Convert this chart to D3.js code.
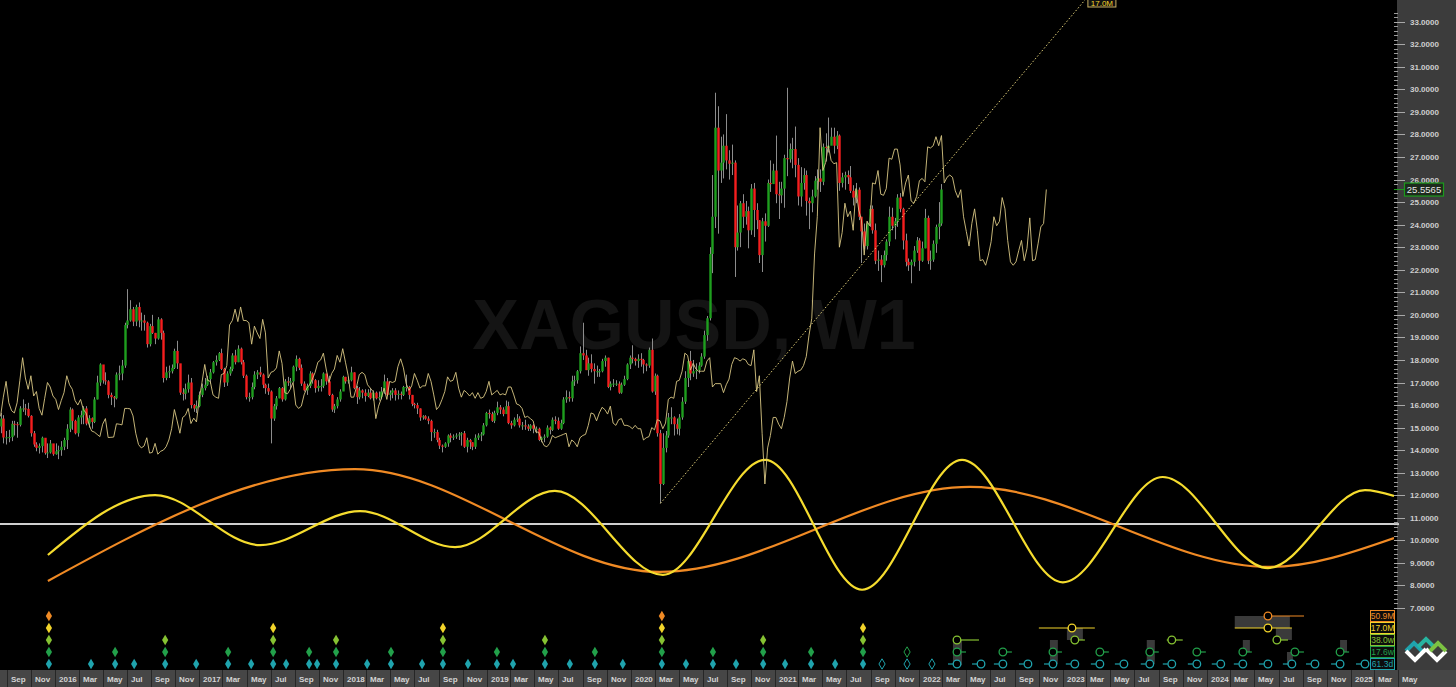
<!DOCTYPE html>
<html><head><meta charset="utf-8">
<script src="https://cdn.jsdelivr.net/npm/d3@7"></script>
<style>html,body{margin:0;padding:0;background:#000;overflow:hidden}svg{display:block}</style>
</head><body>
<svg id="chart" width="1456" height="687"></svg>
<script>
// ---------------- DATA ----------------
const symbolTitle = "XAGUSD, W1";
const firstWeek = "2015-08-16";
const firstOpen = 15.05;
const lastPrice = 25.5565;
// weekly closes, highs, lows (Aug 2015 .. Feb 2022)
const closes = [
15.40,14.56,14.57, 14.58,15.17,15.15,15.12, 15.85,15.85,15.83,15.52, 14.75,14.25,14.10,14.18,14.55, 13.87,13.90,14.30,13.82,
13.95,14.00,14.15,14.45,14.95, 15.80,15.30,14.75,15.45, 15.55,15.85,15.18,15.42, 15.25,16.25,17.00,17.80, 17.10,17.05,16.45,16.35,16.30, 17.35,17.40,17.75,19.55, 19.75,20.25,19.70,20.35,19.75, 19.75,19.65,18.70,19.50, 19.20,18.95,19.80,19.20, 17.20,17.45,17.50,17.65,18.40, 17.85,16.55,16.50,16.70, 17.00,16.00,15.85,15.95,
16.45,16.75,16.90,17.15,17.45, 17.90,18.00,18.30,17.60, 17.00,17.40,17.60,18.20, 17.90,18.50,17.90,17.30,16.35, 16.35,16.80,17.35,17.45, 17.35,16.90,16.75,16.60, 15.40,15.95,16.30,16.75,16.25, 17.05,17.00,17.05,17.70, 18.05,17.65,16.95,16.65, 16.85,17.40,17.10,16.75,16.85, 16.85,17.40,17.05,16.45, 15.80,15.95,16.25,16.60,17.25,
17.05,17.10,17.45,16.75, 16.35,16.65,16.55,16.40, 16.55,16.30,16.55,16.30, 16.35,16.60,17.05,16.45,16.55, 16.65,16.45,16.50,16.45, 16.80,16.80,16.45,16.05, 16.00,15.85,15.45,15.50,15.40, 15.30,14.80,14.80,14.45, 14.20,14.15,14.30,14.65,14.55, 14.60,14.65,14.70,14.75, 14.15,14.45,14.35,14.15, 14.55,14.65,14.70,15.10,15.65,
15.60,15.30,15.65,15.90, 15.80,15.60,15.95,15.20, 15.10,15.35,15.40,15.10,15.10, 15.05,14.95,15.10,14.95, 14.95,14.45,14.55,14.60, 15.00,14.90,15.35,15.30,14.95, 15.20,16.25,16.35,16.30, 17.05,17.10,17.50,18.30, 18.20,17.55,17.85,17.60,17.50, 17.50,17.50,17.95,18.10, 16.80,16.95,16.95,16.95, 16.55,16.90,17.15,17.80,18.10,
18.05,17.95,18.05,18.00, 17.80,17.75,18.45,16.60, 17.30,14.75,12.50,14.10,14.65, 15.45,15.45,15.15,14.95, 15.45,16.15,17.20,17.95,17.40, 17.50,17.55,17.75,18.15, 19.10,19.85,22.70,24.35, 28.30,26.40,26.75,27.50,26.85, 26.70,26.75,23.00,23.65, 24.95,24.35,24.60,23.75, 25.60,24.65,24.20,22.65,24.15, 23.95,25.85,25.80,26.40,
25.35,25.30,25.60,26.95,26.90, 27.35,27.35,26.65,25.25, 25.85,26.20,25.05,24.95, 25.25,25.95,26.05,25.90, 27.45,27.40,27.50,27.90,27.50, 27.95,25.85,26.10,26.20, 26.10,25.50,25.20,25.55, 24.35,23.70,23.05,24.05,24.70, 23.75,22.40,22.45,22.20, 22.65,23.25,24.35,23.95,24.15, 25.20,24.70,23.30,22.35, 22.20,22.35,22.85,23.30,
22.40,22.95,24.30,22.40,22.45, 23.15,23.90,24.05,25.56];
const highs = [
15.65,15.55,14.85, 14.90,15.30,15.30,15.25, 15.95,16.25,16.05,16.10, 15.55,14.85,14.35,14.30,14.60, 14.50,14.30,14.45,14.20,
14.30,14.20,14.40,14.55,15.15, 15.90,15.85,15.35,15.55, 15.75,15.95,15.95,15.55, 15.45,16.35,17.30,17.85, 17.75,17.45,17.10,16.55,16.40, 17.45,17.75,18.00,19.65, 21.14,20.65,20.35,20.45,20.55, 20.10,20.00,19.70,19.60, 20.00,19.20,19.90,19.85, 19.30,17.70,17.75,17.80,18.50, 18.85,17.70,16.75,16.95, 17.35,17.20,16.05,16.20,
16.60,16.95,17.20,17.30,17.60, 17.95,18.20,18.35,18.50, 17.65,17.50,17.70,18.30, 18.45,18.65,18.55,18.00,17.35, 16.55,17.00,17.50,17.55, 17.70,17.40,16.95,16.95, 16.65,16.05,16.40,16.80,16.80, 17.15,17.25,17.20,17.75, 18.20,18.10,17.80,17.05, 16.95,17.50,17.45,17.15,17.10, 17.15,17.45,17.25,17.30, 16.50,16.05,16.35,16.70,17.30,
17.25,17.25,17.70,17.45, 16.85,16.80,16.70,16.70, 16.70,16.75,16.65,16.60, 16.60,16.80,17.35,17.20,16.65, 16.75,16.75,16.65,16.60, 16.85,17.35,16.85,16.45, 16.10,16.10,15.85,15.55,15.55, 15.50,15.35,14.95,14.90, 14.55,14.25,14.35,14.70,14.75, 14.70,14.75,14.80,14.80, 14.85,14.55,14.50,14.35, 14.70,14.75,14.80,15.20,15.70,
15.80,15.70,15.75,16.15, 16.00,15.90,16.20,16.15, 15.30,15.45,15.60,15.50,15.25, 15.35,15.15,15.15,15.15, 15.05,15.00,14.60,14.70, 15.10,15.05,15.45,15.50,15.45, 15.35,16.35,16.65,16.60, 17.30,17.30,17.55,18.60, 19.65,18.45,18.10,18.25,17.85, 17.75,17.60,18.05,18.20, 18.10,17.05,17.15,17.10, 17.05,17.00,17.30,17.85,18.20,
18.65,18.10,18.25,18.30, 18.05,17.85,18.55,18.95, 17.40,17.35,14.90,14.75,14.85, 15.65,15.90,15.50,15.40, 15.60,16.35,17.50,18.00,18.40, 18.00,17.85,17.90,18.30, 19.30,19.95,23.00,26.20, 29.85,29.25,27.90,28.00,28.90, 27.30,27.55,26.85,24.85, 25.05,25.35,25.05,24.80, 25.80,25.85,24.95,24.20,24.30, 24.50,26.00,26.85,26.70,
27.95,25.90,25.90,27.10,30.07, 27.60,27.85,28.35,26.95, 26.55,26.50,26.40,25.20, 25.55,26.15,26.45,26.45, 27.60,28.05,28.75,28.30,28.30, 28.15,28.00,26.30,26.35, 26.40,26.60,25.75,25.85, 25.65,24.35,24.05,24.15,24.85, 24.85,24.05,22.85,22.65, 22.85,23.35,24.80,24.75,24.30, 25.35,25.40,24.75,23.60, 22.50,22.45,23.05,23.45,
23.40,23.25,24.70,24.40,22.85, 23.30,24.00,25.00,25.80];
const lows = [
14.75,14.30,14.25, 14.35,14.40,14.65,14.55, 15.05,15.70,15.55,15.45, 14.60,14.15,13.95,13.85,13.90, 13.80,13.65,13.85,13.75,
13.80,13.60,13.75,14.00,14.05, 14.80,14.90,14.70,14.60, 15.15,15.15,15.10,15.00, 14.95,15.20,16.25,16.85, 16.95,16.90,16.30,16.00,15.90, 16.25,17.10,17.10,17.65, 19.40,19.70,19.50,19.50,19.45, 19.30,19.30,18.55,18.60, 19.15,18.70,18.90,18.90, 17.00,17.10,17.20,17.40,17.60, 17.60,16.45,16.20,16.25, 16.55,15.85,15.70,15.65,
15.90,16.35,16.65,16.85,16.95, 17.40,17.75,17.95,17.55, 16.80,16.85,17.30,17.50, 17.80,17.90,17.80,17.20,16.25, 16.15,16.25,16.70,17.15, 17.25,16.75,16.50,16.45, 14.30,15.30,15.80,16.30,16.15, 16.20,16.85,16.75,17.00, 17.50,17.55,16.85,16.60, 16.45,16.75,16.95,16.55,16.60, 16.60,16.75,16.90,16.40, 15.70,15.65,15.85,16.15,16.80,
16.95,16.95,17.05,16.70, 16.05,16.25,16.30,16.15, 16.35,16.25,16.20,16.25, 16.20,16.25,16.50,16.40,16.20, 16.30,16.20,16.25,16.25, 16.40,16.60,16.25,15.95, 15.85,15.60,15.30,15.35,15.35, 15.15,14.40,14.55,14.35, 14.05,13.90,14.10,14.15,14.35, 14.45,14.50,14.45,14.20, 14.10,13.90,14.05,14.00, 14.05,14.45,14.40,14.65,15.05,
15.40,15.25,15.20,15.55, 15.60,15.50,15.70,15.15, 14.95,15.05,15.25,15.00,14.90, 14.90,14.85,14.85,14.75, 14.75,14.40,14.35,14.35, 14.55,14.70,14.85,15.15,14.90, 14.90,15.15,16.10,16.15, 16.15,16.85,16.95,17.40, 18.00,17.55,17.30,17.45,16.95, 17.25,17.25,17.45,17.70, 16.75,16.65,16.80,16.85, 16.50,16.50,16.85,17.10,17.60,
17.85,17.75,17.65,17.70, 17.40,17.50,17.65,16.55, 16.45,14.60,11.64,12.45,13.90, 14.55,15.15,14.65,14.70, 14.65,15.35,16.05,16.80,17.10, 17.25,17.15,17.40,17.70, 18.05,18.85,19.75,21.85, 23.85,23.60,25.85,26.05,26.45, 26.00,26.20,21.68,22.85, 23.00,23.85,24.00,22.95, 23.55,23.45,23.80,22.30,21.90, 23.25,23.90,25.45,25.80,
24.95,24.25,24.95,24.75,26.15, 26.75,26.50,26.10,24.85, 24.80,25.55,24.40,23.80, 24.55,25.20,25.55,25.45, 25.75,26.80,27.20,27.55,27.15, 27.35,25.50,25.65,25.55, 25.80,25.40,24.85,24.95, 24.20,22.30,22.90,22.90,23.90, 23.60,22.25,21.95,21.45, 22.10,22.40,23.05,23.75,23.35, 23.90,24.55,22.90,22.15, 21.95,21.40,22.15,22.75,
21.95,22.35,22.95,22.25,22.00, 22.35,22.75,23.35,23.95];

// displaced price line (closes before the first candle, Nov 2014 .. Aug 2015), shifted forward
const fldPreStart = "2014-11-23";
const fldPreCloses = [15.50,16.35,17.05,16.10,15.75,15.65, 16.10,17.10,18.10,17.20, 16.70,17.30,16.40,16.60, 15.85,15.55,16.30,17.00,16.80, 16.40,16.25,15.80,16.20, 16.55,17.30,16.90,16.70,16.20, 16.00,16.25,15.80,15.65, 15.15,14.85,14.80,14.70, 14.60,15.15];
const fldShiftWeeks = 38;

// cycle waves (turning points; decimal years, price-scale values)
const wave17MYears  = [2015.951,2016.694,2017.424,2018.118,2018.778,2019.472,2020.222,2020.931,2021.604,2022.299,2023.000,2023.694,2024.424,2025.097,2025.299];
const wave17MValues = [9.35,12.01,9.79,11.30,9.70,12.19,8.47,13.57,7.81,13.57,8.14,12.81,8.77,12.23,11.97];
const wave51MYears  = [2015.951,2018.083,2020.201,2022.354,2024.438,2025.299];
const wave51MValues = [8.20,13.16,8.60,12.37,8.82,10.10];
const baseLineValue = 10.72;

// valid trend line (17.0M)
const vtlYears = [2020.205, 2023.153];
const vtlValues = [11.64, 33.96];
const vtlLabel = "17.0M";

// cycle legend: level 0..4
const cycleLabels = ["61.3d","17.6w","38.0w","17.0M","50.9M"];
const cycleColors = ["#1fa3ad","#22a04a","#86c232","#f2d42a","#f08a24"];

// past troughs: date (decimal year) and highest cycle level reached
const troughYears  = [2015.958,2016.250,2016.417,2016.549,2016.764,2016.979,2017.201,2017.361,2017.514,2017.604,2017.764,2017.819,2017.951,2018.167,2018.333,2018.549,2018.694,2018.868,2019.069,2019.181,2019.403,2019.576,2019.750,2019.944,2020.215,2020.382,2020.569,2020.729,2020.917,2021.069,2021.250,2021.417,2021.611];
const troughLevels = [4,0,1,0,2,0,1,0,3,0,1,0,2,0,1,0,3,0,1,0,2,0,1,0,4,0,1,0,2,0,1,0,3];
// unconfirmed troughs (hollow)
const hollowYears  = [2021.743,2021.917,2021.917,2022.090];
const hollowLevels = [0,0,1,0];
// projected troughs (circles)
const projYears  = [2022.264,2022.431,2022.583,2022.757,2022.931,2023.083,2023.257,2023.424,2023.604,2023.757,2023.931,2024.097,2024.250,2024.424,2024.590,2024.750,2024.924,2025.097,
                    2022.264,2022.583,2022.931,2023.257,2023.604,2023.931,2024.250,2024.611,2024.924,
                    2022.264,2023.083,2023.757,2024.486,
                    2023.063,2024.424,
                    2024.424];
const projLevels = [0,0,0,0,0,0,0,0,0,0,0,0,0,0,0,0,0,0, 1,1,1,1,1,1,1,1,1, 2,2,2,2, 3,3, 4];
// projection ranges: [fromYear, toYear, level]
const projRanges = [[2022.264,2022.417,2],[2023.083,2023.153,2],[2023.722,2023.833,2],[2024.458,2024.563,2],
                    [2022.833,2023.222,3],[2024.194,2024.590,3],[2024.424,2024.674,4]];
// shaded zones: [fromYear, toYear, levelTop, levelBottom]
const projZones = [[2022.236,2022.299,2,-0.1],[2022.910,2022.965,2,0],[2023.028,2023.139,3,2],[2023.583,2023.639,2,0],
                   [2024.250,2024.299,2,1],[2024.194,2024.576,4,3],[2024.479,2024.590,3,2],[2024.556,2024.597,1,-0.1],[2024.924,2024.972,2,1]];

const priceTicks = d3.range(7, 34);
const monthNames = ["Jan","Feb","Mar","Apr","May","Jun","Jul","Aug","Sep","Oct","Nov","Dec"];

// ---------------- LAYOUT ----------------
const W = 1456, H = 687, plotRight = 1394, axisTop = 670;
const svg = d3.select("#chart");
const dy = v => { const yr = Math.floor(v); const a = Date.UTC(yr,0,1), b = Date.UTC(yr+1,0,1); return new Date(a + (v-yr)*(b-a)); };
const x = d3.scaleUtc().domain([dy(2015.6181), dy(2025.2986)]).range([0, plotRight]);
const y = d3.scaleLinear().domain([7, 33]).range([608.0, 21.7]);
const levelY = l => 664 - 12*l;
const font = "'Liberation Sans', Arial, sans-serif";

svg.append("rect").attr("width", W).attr("height", H).attr("fill", "#000");

const plot = svg.append("g");
plot.append("clipPath").attr("id","clipPlot").append("rect").attr("x",0).attr("y",0).attr("width",plotRight).attr("height",axisTop);

// watermark
plot.append("text").attr("x", 694).attr("y", 349).attr("text-anchor","middle")
  .attr("font-family", font).attr("font-weight","bold").attr("font-size", 70)
  .attr("fill", "#141414").text(symbolTitle);

const g = plot.append("g").attr("clip-path","url(#clipPlot)");

// base line
g.append("line").attr("x1",0).attr("x2",plotRight).attr("y1",y(baseLineValue)).attr("y2",y(baseLineValue))
  .attr("stroke","#cfcfcf").attr("stroke-width",2);

// waves
const waveLine = d3.line().x(d => x(dy(d[0]))).y(d => y(d[1])).curve(d3.curveMonotoneX);
g.append("path").attr("d", waveLine(wave51MYears.map((t,i)=>[t, wave51MValues[i]])))
  .attr("fill","none").attr("stroke","#f08a24").attr("stroke-width",2.2);
g.append("path").attr("d", waveLine(wave17MYears.map((t,i)=>[t, wave17MValues[i]])))
  .attr("fill","none").attr("stroke","#f5dc2e").attr("stroke-width",2.2);

// candles
const start = new Date(firstWeek + "T00:00:00Z");
const n = Math.min(closes.length, highs.length, lows.length);
const candles = d3.range(n).map(i => ({
  d: d3.utcDay.offset(start, i*7),
  o: i ? closes[i-1] : firstOpen, c: closes[i], h: highs[i], l: lows[i]
}));
const cg = g.append("g");
cg.selectAll("line").data(candles).join("line")
  .attr("x1", d => Math.round(x(d.d)) + 0.5).attr("x2", d => Math.round(x(d.d)) + 0.5)
  .attr("y1", d => y(d.h)).attr("y2", d => y(d.l))
  .attr("stroke", "#8c8c8c").attr("stroke-width", 1);
cg.selectAll("rect").data(candles).join("rect")
  .attr("x", d => Math.round(x(d.d)) - 0.7).attr("width", 2.4)
  .attr("y", d => y(Math.max(d.o, d.c))).attr("height", d => Math.max(1, Math.abs(y(d.o) - y(d.c))))
  .attr("fill", d => d.c >= d.o ? "#1e9e1e" : "#f51e1e");

// displaced price line
const fldStart = new Date(fldPreStart + "T00:00:00Z");
const fldVals = fldPreCloses.concat(closes.slice(0, n));
const fldLine = d3.line().x((v,i) => x(d3.utcDay.offset(fldStart, (i + fldShiftWeeks)*7))).y(v => y(v));
g.append("path").attr("d", fldLine(fldVals)).attr("fill","none")
  .attr("stroke","#d8c784").attr("stroke-width",1).attr("opacity",0.9);

// VTL
svg.append("line")
  .attr("x1", x(dy(vtlYears[0]))).attr("y1", y(vtlValues[0]))
  .attr("x2", x(dy(vtlYears[1]))).attr("y2", y(vtlValues[1]))
  .attr("stroke","#e6d47c").attr("stroke-width",1).attr("stroke-dasharray","1.5,2");
const vx = x(dy(vtlYears[1])) + 3;
svg.append("rect").attr("x", vx).attr("y", -3).attr("width", 28).attr("height", 10)
  .attr("fill","#111").attr("stroke","#c9b062").attr("stroke-width",1);
svg.append("text").attr("x", vx + 14).attr("y", 5.5).attr("text-anchor","middle")
  .attr("font-family", font).attr("font-size", 8).attr("fill","#f2d42a").text(vtlLabel);

// trough markers
const diamond = (cx, cy) => `M${cx},${cy-5.2}L${cx+3.1},${cy}L${cx},${cy+5.2}L${cx-3.1},${cy}Z`;
const mk = svg.append("g");
troughYears.forEach((t,i) => {
  const cx = x(dy(t));
  for (let l = 0; l <= troughLevels[i]; l++) {
    mk.append("path").attr("d", diamond(cx, levelY(l))).attr("fill", cycleColors[l]);
  }
});
hollowYears.forEach((t,i) => {
  const cx = x(dy(t));
  mk.append("path").attr("d", diamond(cx, levelY(hollowLevels[i]))).attr("fill","none")
    .attr("stroke", cycleColors[hollowLevels[i]]).attr("stroke-width",1);
});
// shaded projection zones
projZones.forEach(z => {
  mk.append("rect").attr("x", x(dy(z[0]))).attr("width", x(dy(z[1])) - x(dy(z[0])))
    .attr("y", levelY(z[2])).attr("height", levelY(z[3]) - levelY(z[2])).attr("fill","#3a3a3a");
});
projRanges.forEach(r => {
  mk.append("line").attr("x1", x(dy(r[0]))).attr("x2", x(dy(r[1])))
    .attr("y1", levelY(r[2])).attr("y2", levelY(r[2]))
    .attr("stroke", cycleColors[r[2]]).attr("stroke-width",1.2);
});
projYears.forEach((t,i) => {
  const cx = x(dy(t)), l = projLevels[i], cy = levelY(l);
  if (l === 0) mk.append("line").attr("x1", cx-9).attr("x2", cx-4).attr("y1", cy).attr("y2", cy).attr("stroke", cycleColors[0]).attr("stroke-width",1.2);
  if (l === 1) mk.append("line").attr("x1", cx+4).attr("x2", cx+9).attr("y1", cy).attr("y2", cy).attr("stroke", cycleColors[1]).attr("stroke-width",1.2);
  mk.append("circle").attr("cx", cx).attr("cy", cy).attr("r", 3.8).attr("fill","#000")
    .attr("stroke", cycleColors[l]).attr("stroke-width",1.3);
});

// legend boxes
const lg = svg.append("g");
cycleLabels.forEach((lab, l) => {
  const cy = levelY(l);
  lg.append("rect").attr("x", 1370.5).attr("y", cy - 5.5).attr("width", 24).attr("height", 11)
    .attr("fill","#0d0d0d").attr("stroke", cycleColors[l]).attr("stroke-width",1);
  lg.append("text").attr("x", 1382.5).attr("y", cy + 3).attr("text-anchor","middle")
    .attr("font-family", font).attr("font-size", 8.5).attr("fill", cycleColors[l]).text(lab);
});

// ---------------- RIGHT PRICE AXIS ----------------
const ra = svg.append("g");
ra.append("rect").attr("x", 1397).attr("y", 0).attr("width", W-1397).attr("height", axisTop).attr("fill","#3c3c3c");
ra.selectAll("line.minor").data(d3.range(7, 33.6, 0.2)).join("line").attr("class","minor")
  .attr("x1", 1394).attr("x2", 1398).attr("y1", d => Math.round(y(d))+0.5).attr("y2", d => Math.round(y(d))+0.5)
  .attr("stroke","#9a9a9a").attr("stroke-width",1);
ra.selectAll("line.major").data(priceTicks).join("line").attr("class","major")
  .attr("x1", 1394).attr("x2", 1405).attr("y1", d => Math.round(y(d))+0.5).attr("y2", d => Math.round(y(d))+0.5)
  .attr("stroke","#a8a8a8").attr("stroke-width",1);
ra.selectAll("text").data(priceTicks).join("text")
  .attr("x", 1410).attr("y", d => y(d) + 3).attr("font-family", font).attr("font-weight","bold")
  .attr("font-size", 8).attr("fill","#cfcfcf").text(d => d3.format(".4f")(d));
ra.append("line").attr("x1",1394).attr("x2",1399).attr("y1",y(baseLineValue)).attr("y2",y(baseLineValue)).attr("stroke","#cfcfcf").attr("stroke-width",2);
// current price tag
const py = y(lastPrice);
ra.append("line").attr("x1", 1394).attr("x2", 1404).attr("y1", py).attr("y2", py).attr("stroke","#1c9a1c").attr("stroke-width",1);
ra.append("rect").attr("x", 1404.5).attr("y", py - 6.5).attr("width", 39).attr("height", 13)
  .attr("fill","#1d2a1d").attr("stroke","#1c9a1c").attr("stroke-width",1.2);
ra.append("text").attr("x", 1424).attr("y", py + 3.5).attr("text-anchor","middle")
  .attr("font-family", font).attr("font-size", 9.5).attr("fill","#e8e8e8").text(d3.format(".4f")(lastPrice));

// logo
const logo = svg.append("g").attr("fill","none").attr("stroke-width",4).attr("stroke-linejoin","miter");
logo.append("path").attr("d","M1406,651 L1414,643 L1422,651").attr("stroke","#1fa3ad");
logo.append("path").attr("d","M1406,651 L1415,660 L1426,649").attr("stroke","#ffffff");
logo.append("path").attr("d","M1418,647 L1426,639 L1434,647").attr("stroke","#27b5a0");
logo.append("path").attr("d","M1426,649 L1437,660 L1446,651").attr("stroke","#ffffff");
logo.append("path").attr("d","M1430,651 L1438,643 L1446,651").attr("stroke","#7cc242");

// ---------------- BOTTOM TIME AXIS ----------------
const ba = svg.append("g");
ba.append("rect").attr("x",0).attr("y",axisTop).attr("width",W).attr("height",H-axisTop).attr("fill","#464646");
const monthTicks = d3.utcMonth.every(2).range(new Date(Date.UTC(2015,8,1)), new Date(Date.UTC(2025,5,2)));
ba.selectAll("line").data(monthTicks).join("line")
  .attr("x1", d => Math.round(x(d))+0.5).attr("x2", d => Math.round(x(d))+0.5)
  .attr("y1", axisTop).attr("y2", H).attr("stroke","#262626").attr("stroke-width",1);
ba.selectAll("text").data(monthTicks).join("text")
  .attr("x", d => Math.round(x(d)) + 4).attr("y", 682)
  .attr("font-family", font).attr("font-weight","bold").attr("font-size", 8).attr("fill","#d4d4d4")
  .text(d => d.getUTCMonth() === 0 ? String(d.getUTCFullYear()) : monthNames[d.getUTCMonth()]);
</script>
</body></html>
